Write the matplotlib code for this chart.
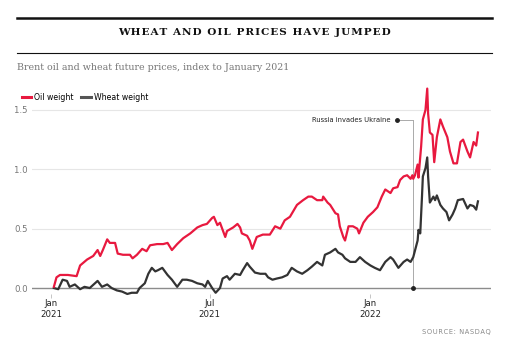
import matplotlib
matplotlib.use("Agg")
import matplotlib.pyplot as plt
from matplotlib.lines import Line2D
from matplotlib.font_manager import FontProperties
import pandas as pd

# brent oil, index to Jan 2021
oil_dates = [
    "2021-01-04", "2021-01-07", "2021-01-11", "2021-01-20", "2021-01-30", "2021-02-03",
    "2021-02-11", "2021-02-18", "2021-02-23", "2021-02-26", "2021-03-01", "2021-03-06",
    "2021-03-09", "2021-03-15", "2021-03-18", "2021-03-24", "2021-04-01", "2021-04-04",
    "2021-04-09", "2021-04-15", "2021-04-20", "2021-04-24", "2021-05-02", "2021-05-09",
    "2021-05-14", "2021-05-19", "2021-05-25", "2021-06-01", "2021-06-09", "2021-06-17",
    "2021-06-23", "2021-06-28", "2021-07-04", "2021-07-06", "2021-07-10", "2021-07-13",
    "2021-07-15", "2021-07-19", "2021-07-21", "2021-07-28", "2021-08-02", "2021-08-05",
    "2021-08-07", "2021-08-13", "2021-08-16", "2021-08-19", "2021-08-24", "2021-08-31",
    "2021-09-08", "2021-09-14", "2021-09-20", "2021-09-25", "2021-10-01", "2021-10-09",
    "2021-10-16", "2021-10-22", "2021-10-26", "2021-11-01", "2021-11-07", "2021-11-08",
    "2021-11-13", "2021-11-16", "2021-11-22", "2021-11-25", "2021-11-27", "2021-12-01",
    "2021-12-03", "2021-12-07", "2021-12-12", "2021-12-17", "2021-12-19", "2021-12-24",
    "2021-12-29", "2022-01-04", "2022-01-09", "2022-01-14", "2022-01-18", "2022-01-24",
    "2022-01-27", "2022-02-01", "2022-02-04", "2022-02-08", "2022-02-12", "2022-02-16",
    "2022-02-18", "2022-02-19", "2022-02-21", "2022-02-24", "2022-02-25", "2022-02-28",
    "2022-03-02", "2022-03-05", "2022-03-07", "2022-03-08", "2022-03-10", "2022-03-13",
    "2022-03-15", "2022-03-18", "2022-03-22", "2022-03-25", "2022-03-30", "2022-04-02",
    "2022-04-06", "2022-04-10", "2022-04-14", "2022-04-17", "2022-04-22", "2022-04-25",
    "2022-04-29", "2022-05-02", "2022-05-04",
]
oil_values = [
    0.01, 0.09, 0.11, 0.11, 0.10, 0.19,
    0.24, 0.27, 0.32, 0.27, 0.32, 0.41,
    0.38, 0.38, 0.29, 0.28, 0.28, 0.25,
    0.28, 0.33, 0.31, 0.36, 0.37, 0.37,
    0.38, 0.32, 0.37, 0.42, 0.46, 0.51,
    0.53, 0.54, 0.59, 0.60, 0.53, 0.55,
    0.51, 0.43, 0.48, 0.51, 0.54, 0.51,
    0.46, 0.44, 0.40, 0.33, 0.43, 0.45,
    0.45, 0.52, 0.50, 0.57, 0.60, 0.70,
    0.74, 0.77, 0.77, 0.74, 0.74, 0.77,
    0.72, 0.70, 0.63, 0.62, 0.52, 0.43,
    0.40, 0.52, 0.52, 0.50, 0.46, 0.55,
    0.60, 0.64, 0.68, 0.77, 0.83, 0.80,
    0.84, 0.85, 0.91, 0.94, 0.95, 0.92,
    0.95, 0.92, 0.95, 1.04, 0.93, 1.19,
    1.42, 1.50, 1.68, 1.47, 1.31, 1.29,
    1.06, 1.27, 1.42, 1.36, 1.27, 1.15,
    1.05, 1.05, 1.23, 1.25, 1.15, 1.10,
    1.23, 1.20, 1.31,
]

# wheat futures, index to Jan 2021
wheat_dates = [
    "2021-01-04", "2021-01-09", "2021-01-14", "2021-01-19", "2021-01-22", "2021-01-28",
    "2021-02-03", "2021-02-08", "2021-02-14", "2021-02-20", "2021-02-23", "2021-02-28",
    "2021-03-06", "2021-03-11", "2021-03-17", "2021-03-23", "2021-03-29", "2021-04-03",
    "2021-04-09", "2021-04-12", "2021-04-18", "2021-04-22", "2021-04-26", "2021-04-30",
    "2021-05-03", "2021-05-08", "2021-05-11", "2021-05-14", "2021-05-19", "2021-05-25",
    "2021-05-31", "2021-06-05", "2021-06-11", "2021-06-17", "2021-06-23", "2021-06-26",
    "2021-06-29", "2021-07-04", "2021-07-08", "2021-07-13", "2021-07-16", "2021-07-21",
    "2021-07-24", "2021-07-30", "2021-08-05", "2021-08-08", "2021-08-13", "2021-08-16",
    "2021-08-22", "2021-08-28", "2021-09-03", "2021-09-06", "2021-09-11", "2021-09-16",
    "2021-09-22", "2021-09-28", "2021-10-03", "2021-10-09", "2021-10-15", "2021-10-21",
    "2021-10-26", "2021-11-01", "2021-11-07", "2021-11-10", "2021-11-16", "2021-11-22",
    "2021-11-25", "2021-11-30", "2021-12-03", "2021-12-09", "2021-12-15", "2021-12-20",
    "2021-12-26", "2022-01-01", "2022-01-06", "2022-01-12", "2022-01-18", "2022-01-24",
    "2022-01-27", "2022-02-02", "2022-02-08", "2022-02-12", "2022-02-16", "2022-02-19",
    "2022-02-24", "2022-02-25", "2022-02-27", "2022-03-01", "2022-03-02", "2022-03-05",
    "2022-03-07", "2022-03-08", "2022-03-10", "2022-03-14", "2022-03-16", "2022-03-18",
    "2022-03-22", "2022-03-25", "2022-03-29", "2022-04-01", "2022-04-05", "2022-04-08",
    "2022-04-11", "2022-04-17", "2022-04-22", "2022-04-25", "2022-04-29", "2022-05-02",
    "2022-05-04",
]
wheat_values = [
    0.00, -0.01, 0.07, 0.06, 0.01, 0.03,
    -0.01, 0.01, 0.00, 0.04, 0.06, 0.01,
    0.03, 0.00, -0.02, -0.03, -0.05, -0.04,
    -0.04, 0.00, 0.04, 0.12, 0.17, 0.14,
    0.15, 0.17, 0.14, 0.11, 0.07, 0.01,
    0.07, 0.07, 0.06, 0.04, 0.03, 0.01,
    0.06, 0.00, -0.04, 0.00, 0.08, 0.10,
    0.07, 0.12, 0.11, 0.15, 0.21, 0.18,
    0.13, 0.12, 0.12, 0.09, 0.07, 0.08,
    0.09, 0.11, 0.17, 0.14, 0.12, 0.15,
    0.18, 0.22, 0.19, 0.28, 0.30, 0.33,
    0.30, 0.28, 0.25, 0.22, 0.22, 0.26,
    0.22, 0.19, 0.17, 0.15, 0.22, 0.26,
    0.24, 0.17, 0.22, 0.24, 0.22, 0.26,
    0.40, 0.49, 0.46, 0.77, 0.94, 1.01,
    1.10, 0.94, 0.72, 0.77, 0.74, 0.78,
    0.70, 0.67, 0.64, 0.57, 0.62, 0.67,
    0.74, 0.75, 0.67, 0.70, 0.69, 0.66,
    0.73,
]

y_ticks = [0.0, 0.5, 1.0, 1.5]
x_ticks = ["2021-01-01", "2021-07-01", "2022-01-01"]
x_labels = ["Jan\n2021", "Jul\n2021", "Jan\n2022"]

event_date = "2022-02-19"
event_label = "Russia invades Ukraine"
event_level = 1.415

RED = "#e8193f"
DARK = "#333333"
GREY = "#777777"


def narrow(size, weight="normal"):
    return FontProperties(family="DejaVu Sans", stretch="condensed", size=size, weight=weight)


fig = plt.figure(figsize=(5.05, 3.48), dpi=100)
ax = fig.add_axes([0.0634, 0.1437, 0.909, 0.6086])

for s in ax.spines.values():
    s.set_visible(False)

for t in y_ticks[1:]:
    ax.axhline(t, color="#e6e6e6", lw=0.8, zorder=0)
ax.axhline(0, color="#8c8c8c", lw=1.0, zorder=1)

ev = pd.Timestamp(event_date)
ax.plot([ev, ev], [0, event_level], color="#aaaaaa", lw=0.7, zorder=1)
ax.plot([ev - pd.Timedelta(days=19), ev], [event_level, event_level], color="#aaaaaa", lw=0.7, zorder=1)
ax.plot([ev], [0], "o", color="#222222", ms=2.5, zorder=5, clip_on=False)
ax.plot([ev - pd.Timedelta(days=19)], [event_level], "o", color="#222222", ms=2.5, zorder=5)
ax.text(ev - pd.Timedelta(days=26), event_level, event_label, ha="right", va="center",
        fontproperties=narrow(5.4), color="#222222")

ax.plot(pd.to_datetime(wheat_dates), wheat_values, color=DARK, lw=1.6, zorder=3, clip_on=False)
ax.plot(pd.to_datetime(oil_dates), oil_values, color=RED, lw=1.6, zorder=4, clip_on=False)

ax.set_xlim(pd.Timestamp("2020-12-10"), pd.Timestamp("2022-05-19"))
ax.set_ylim(-0.084, 1.7)
ax.set_xticks(pd.to_datetime(x_ticks))
ax.set_xticklabels(x_labels, fontproperties=narrow(6.8), color="#222222", linespacing=1.3)
ax.set_yticks(y_ticks)
ax.set_yticklabels(["%.1f" % t for t in y_ticks], fontproperties=narrow(6.8), color=GREY)
ax.tick_params(axis="x", direction="in", length=3, width=0.6, color="#bbbbbb", pad=1)
ax.tick_params(axis="y", length=0, pad=3)

handles = [Line2D([], [], color=RED, lw=2.2), Line2D([], [], color="#555555", lw=2.2)]
fig.legend(handles, ["Oil weight", "Wheat weight"], loc="center left",
           bbox_to_anchor=(0.036, 1 - 98 / 348), ncol=2, frameon=False,
           handlelength=1.1, handletextpad=0.35, columnspacing=0.9, borderaxespad=0,
           prop=narrow(6.2))

fig.add_artist(Line2D([17 / 505, 492 / 505], [1 - 17.5 / 348] * 2, color="#111111", lw=1.8))
fig.add_artist(Line2D([17 / 505, 492 / 505], [1 - 53 / 348] * 2, color="#111111", lw=0.8))
title = "\u200a".join("WHEAT AND OIL PRICES HAVE JUMPED").replace("\u200a \u200a", "\u2009 ")
fig.text(254 / 505, 1 - 32.5 / 348, title, ha="center", va="center", fontsize=7.5,
         fontweight="bold", family="DejaVu Serif", color="#111111")
fig.text(17 / 505, 1 - 67 / 348, "Brent oil and wheat future prices, index to January 2021",
         ha="left", va="center", fontsize=6.8, family="DejaVu Serif", color="#777777")
fig.text(491 / 505, 1 - 332 / 348, "\u200a".join("SOURCE: NASDAQ"), ha="right", va="center",
         fontproperties=narrow(5.3), color="#888888")

fig.savefig("out.png", dpi=100)
